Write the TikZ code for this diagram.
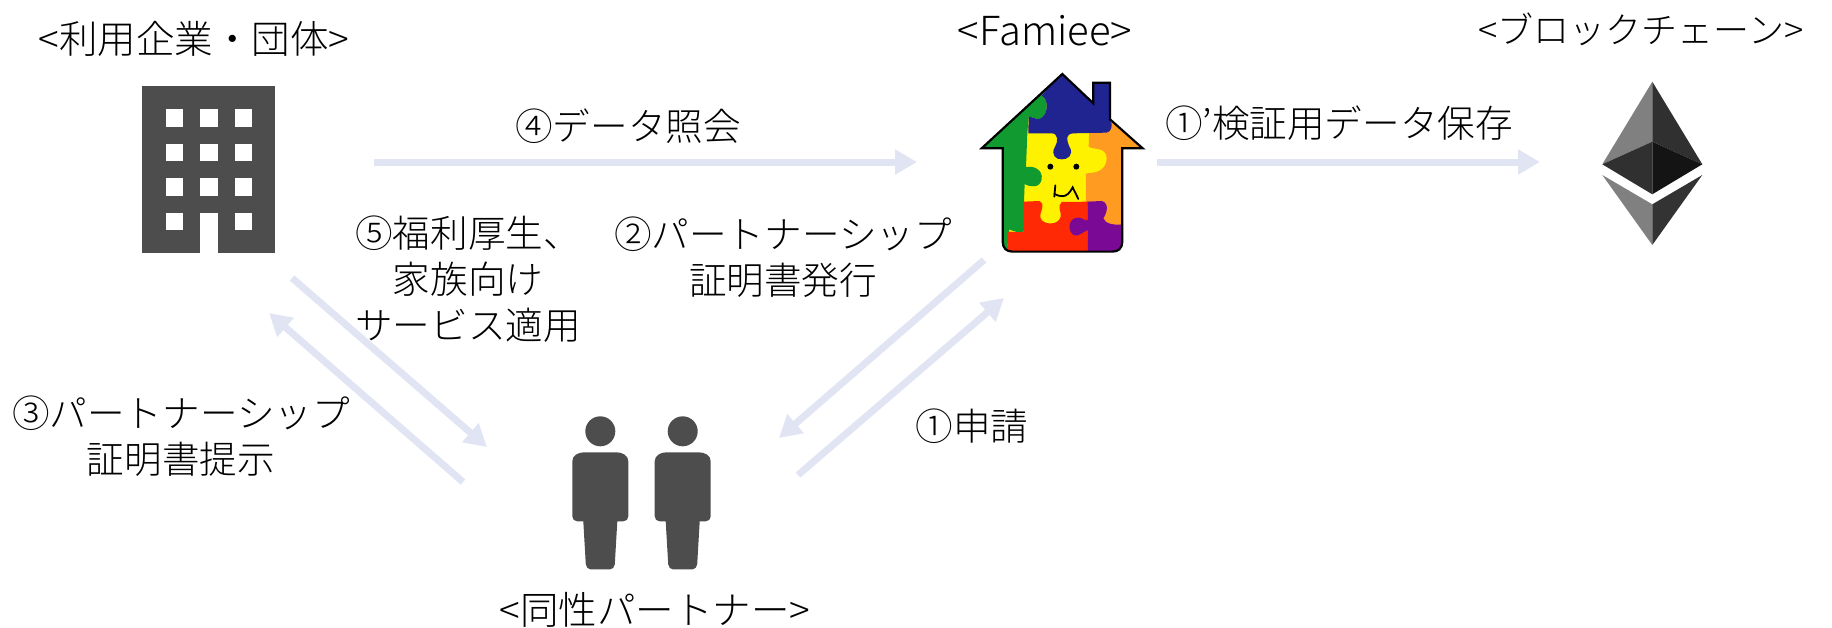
\documentclass[tikz,border=0pt]{standalone}
\usepackage{fontspec}
\setmainfont{Noto Sans CJK JP}[UprightFont=* Light]
\usetikzlibrary{arrows.meta}
\definecolor{flow}{HTML}{E1E5F3}
\definecolor{icon}{HTML}{4D4D4D}
\definecolor{hgreen}{HTML}{109A30}
\definecolor{hblue}{HTML}{1F2490}
\definecolor{hyellow}{HTML}{FFF200}
\definecolor{horange}{HTML}{FF9B20}
\definecolor{hred}{HTML}{FF2A05}
\definecolor{hpurple}{HTML}{7A0A96}
\tikzset{
  flowarrow/.style={draw=flow,line width=7pt,-{Triangle[length=22pt,width=24pt]}},
  lbl/.style={inner sep=0pt,align=center,font=\fontsize{37.6}{46}\selectfont,text=black},
  person/.pic={
    \fill[icon] (0,0) circle (15);
    \fill[icon] (-28,30) .. controls (-28,24) and (-22,21) .. (-16,21) -- (16,21) .. controls (22,21) and (28,24) .. (28,30)
      -- (28,85) .. controls (28,88) and (26,90) .. (23,90) -- (17,90) -- (14.5,133) .. controls (14.3,136) and (12,138) .. (10,138)
      -- (-10,138) .. controls (-12,138) and (-14.3,136) .. (-14.5,133) -- (-17,90) -- (-23,90) .. controls (-26,90) and (-28,88) .. (-28,85) -- cycle;
  }
}
\begin{document}
\begin{tikzpicture}[x=1pt,y=-1pt]
\useasboundingbox (0,0) rectangle (1832,627);
% building
\fill[icon] (142,86) rectangle (275,253);
\foreach \cx in {165.5,200,234.5}\foreach \cy in {109,143.5,178}
  \fill[white] (\cx,\cy) rectangle ++(17.5,17.5);
\fill[white] (165.5,212.7) rectangle ++(17.5,17.5);
\fill[white] (234.5,212.7) rectangle ++(17.5,17.5);
\fill[white] (200,212.7) rectangle (217.5,253);
% people
\pic at (600.3,431.3) {person};
\pic at (682.7,431.3) {person};
% ethereum
\fill[black!50] (1652.3,81.7) -- (1602.3,164.3) -- (1652.3,141.7) -- cycle;
\fill[black!81] (1652.3,81.7) -- (1702.3,164.3) -- (1652.3,141.7) -- cycle;
\fill[black!81] (1652.3,141.7) -- (1602.3,164.3) -- (1652.3,194.3) -- cycle;
\fill[black!92] (1652.3,141.7) -- (1702.3,164.3) -- (1652.3,194.3) -- cycle;
\fill[black!50] (1602.3,175) -- (1652.3,204.3) -- (1652.3,245) -- cycle;
\fill[black!80] (1702.3,175) -- (1652.3,204.3) -- (1652.3,245) -- cycle;
% house
\begin{scope}[shift={(950,50)},x=0.3333pt,y=-0.3333pt]
\def\houseoutline{(337,72) -- (430,160) -- (430,98) -- (480,98) -- (480,208) -- (578,295) -- (517,295) -- (517,575) .. controls (517,595) and (505,605) .. (487,605) -- (188,605) .. controls (170,605) and (158,595) .. (158,575) -- (158,295) -- (95,295) -- cycle}
\begin{scope}
\clip \houseoutline;
\fill[hyellow] (90,60) rectangle (590,610);
% green
\fill[hgreen] (337,60) -- (275,137) .. controls (295,145) and (298,195) .. (268,207) .. controls (255,207) and (245,200) .. (236,200)
  -- (232,250) -- (228,352) .. controls (250,345) and (280,360) .. (275,388) .. controls (270,415) and (240,412) .. (224,402)
  -- (222,455) -- (222,545) .. controls (205,548) and (190,545) .. (178,538) -- (170,610) -- (90,610) -- (90,290) -- cycle;
% orange
\fill[horange] (470,190) -- (590,290) -- (590,610) -- (517,610) -- (517,525) -- (408,525) -- (408,455)
  -- (408,370) .. controls (430,370) and (470,365) .. (470,325) .. controls (470,290) and (430,300) .. (416,290) -- (418,225) -- cycle;
% blue
\fill[hblue] (340,60) -- (275,137) .. controls (295,145) and (298,195) .. (268,207) .. controls (255,207) and (245,200) .. (236,200)
  -- (235,250) -- (305,250) .. controls (325,250) and (325,275) .. (315,290) .. controls (300,315) and (320,330) .. (335,328) .. controls (350,330) and (375,315) .. (358,290) .. controls (350,270) and (345,252) .. (370,250)
  -- (470,248) .. controls (485,245) and (490,225) .. (480,208) -- (485,90) -- (425,90) -- (425,150) -- cycle;
% red
\fill[hred] (222,455) -- (268,453) .. controls (290,465) and (265,490) .. (272,505) .. controls (280,525) and (325,528) .. (332,500) .. controls (335,485) and (320,470) .. (335,456)
  -- (420,455) -- (420,610) -- (170,610) -- (175,545) .. controls (190,545) and (205,548) .. (222,545) -- cycle;
% purple
\fill[hpurple] (413,455) -- (455,453) .. controls (480,460) and (470,490) .. (460,505) .. controls (465,520) and (490,528) .. (525,522)
  -- (525,610) -- (414,610) -- (414,540) .. controls (395,548) and (375,570) .. (362,545) .. controls (350,520) and (370,495) .. (395,505) .. controls (405,510) and (414,516) .. (414,505) -- cycle;
\end{scope}
\draw[black,line width=2.2pt,line join=miter] \houseoutline;
\fill[black] (301,350) circle (9);
\fill[black] (379,350) circle (9);
\draw[black,line width=1.8pt,line cap=round] (316,406) -- (313,440);
\draw[black,line width=1.8pt,line cap=round] (313,432) .. controls (330,440) and (350,448) .. (368,412) -- (385,447);
\end{scope}
% anchors
\coordinate (a4s) at (374,162); \coordinate (a4e) at (917,162);
\coordinate (a1ps) at (1157,162); \coordinate (a1pe) at (1540,162);
\coordinate (a5s) at (292,278); \coordinate (a5e) at (487,447);
\coordinate (a3s) at (463,482); \coordinate (a3e) at (269,313);
\coordinate (a2s) at (984,260); \coordinate (a2e) at (779,438);
\coordinate (a1s) at (798,475); \coordinate (a1e) at (1004,298);
\draw[flowarrow] (a4s) -- (a4e);
\draw[flowarrow] (a1ps) -- (a1pe);
\draw[flowarrow] (a5s) -- (a5e);
\draw[flowarrow] (a3s) -- (a3e);
\draw[flowarrow] (a2s) -- (a2e);
\draw[flowarrow] (a1s) -- (a1e);
% labels
\node[lbl,font=\fontsize{38.5}{46}\selectfont] (tcompany) at (194,39) {<利用企業・団体>};
\node[lbl,font=\fontsize{40}{46}\selectfont] (tfamiee) at (1045,31) {<Famiee>};
\node[lbl,font=\fontsize{36}{46}\selectfont] (tchain) at (1641,29) {<ブロックチェーン>};
\node[lbl,font=\fontsize{38.5}{46}\selectfont] (tpartner) at (655,610) {<同性パートナー>};
\node[lbl] (t4) at (628,126) {④データ照会};
\node[lbl] (t1p) at (1339,123) {①'検証用データ保存};
\node[lbl] (t5) at (468,279) {⑤福利厚生、\\家族向け\\サービス適用};
\node[lbl] (t2) at (783,257) {②パートナーシップ\\証明書発行};
\node[lbl] (t3) at (181,436) {③パートナーシップ\\証明書提示};
\node[lbl] (t1) at (972,426) {①申請};
\end{tikzpicture}
\end{document}
